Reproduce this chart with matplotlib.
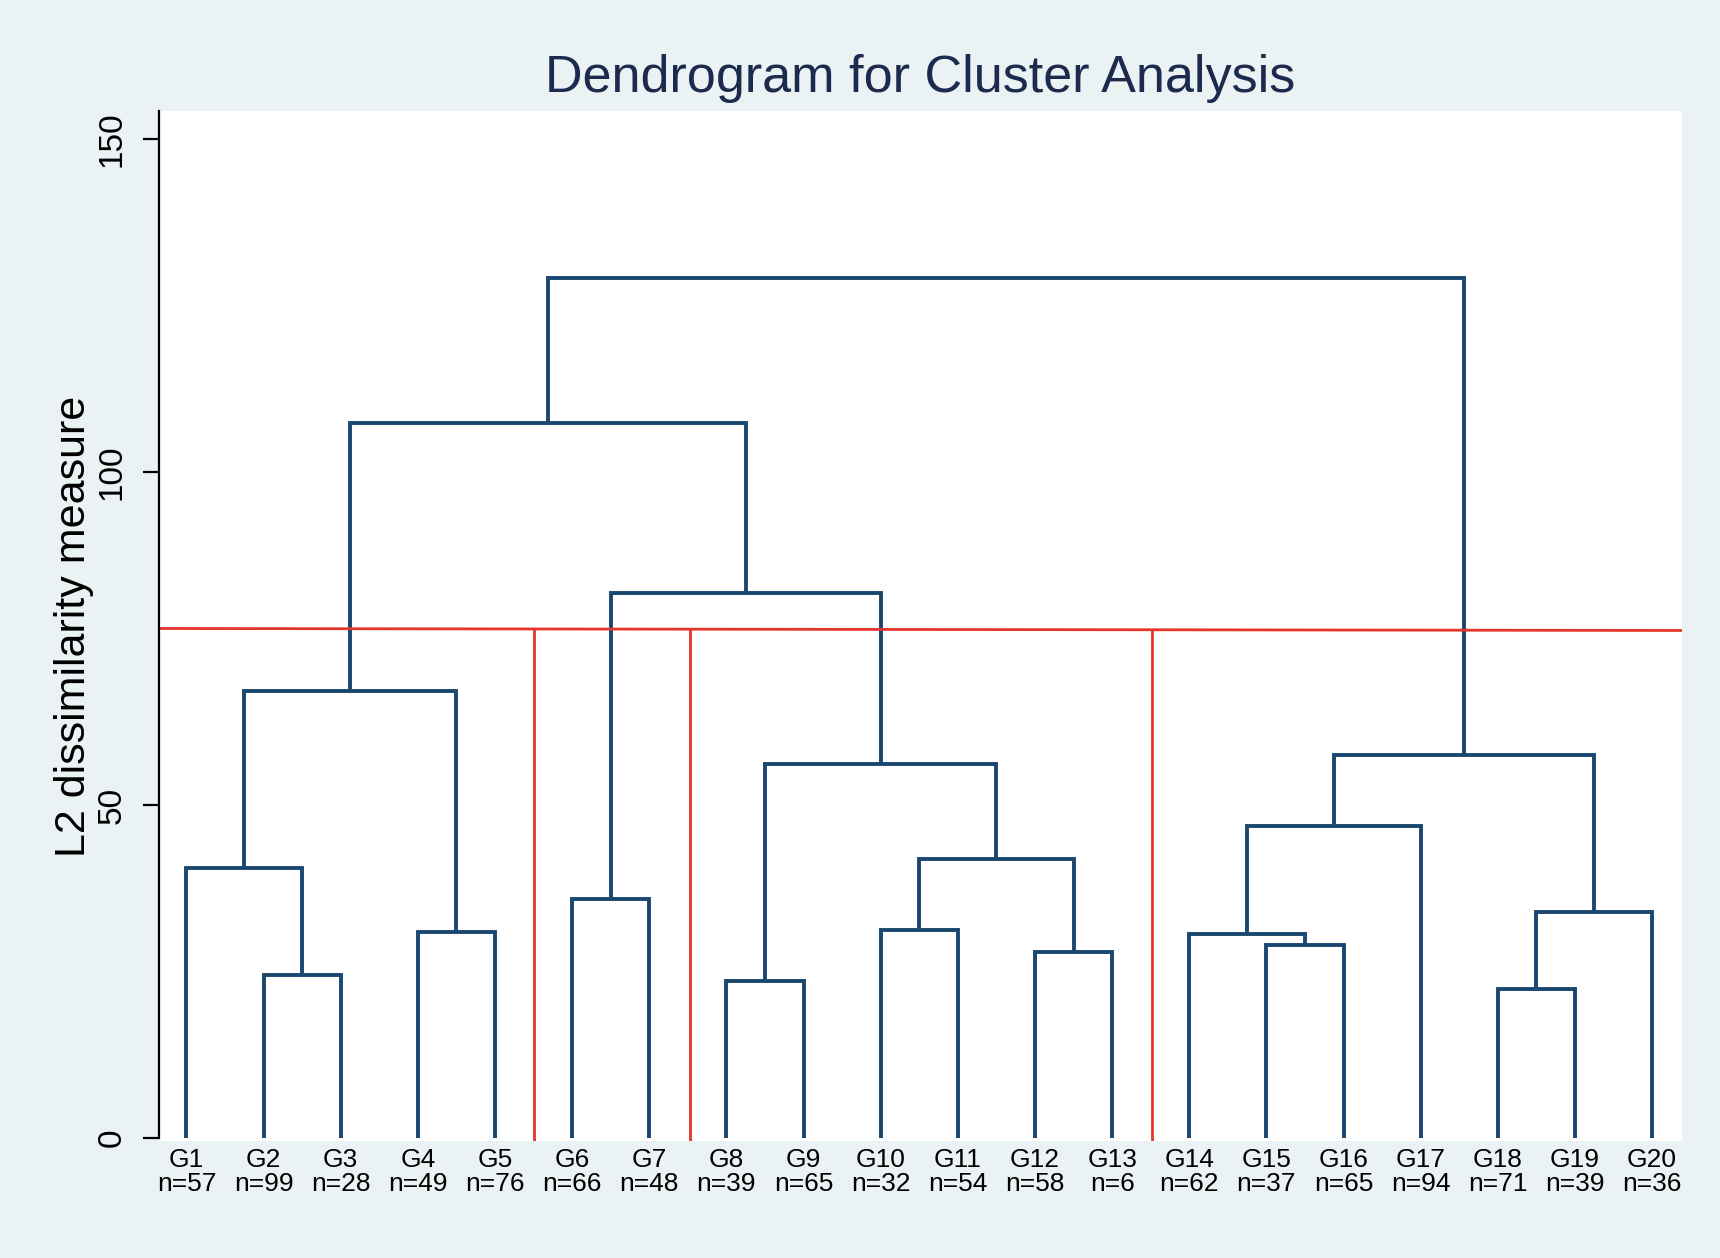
import matplotlib
matplotlib.use("Agg")
from matplotlib import pyplot as plt

# leaves in plotted order
groups = ["G1", "G2", "G3", "G4", "G5", "G6", "G7", "G8", "G9", "G10",
          "G11", "G12", "G13", "G14", "G15", "G16", "G17", "G18", "G19", "G20"]
counts = [57, 99, 28, 49, 76, 66, 48, 39, 65, 32,
          54, 58, 6, 62, 37, 65, 94, 71, 39, 36]

# linkage: leaves are 0..19, merge k makes node 20+k
merge_left = [17, 7, 1, 11, 14, 13, 3, 9, 20, 5, 0, 27, 25, 21, 32, 30, 29, 35, 37]
merge_right = [18, 8, 2, 12, 15, 24, 4, 10, 19, 6, 22, 23, 16, 31, 28, 26, 33, 36, 34]
merge_height = [22.4, 23.6, 24.4, 28.0, 29.0, 30.7, 31.0, 31.2, 34.0, 35.9,
                40.5, 41.9, 46.8, 56.2, 57.5, 67.1, 81.9, 107.3, 129.1]

# red cut line drawn on the chart
cut_height = [76.5, 76.2]
cut_positions = [5.5, 7.53, 13.52]

NAVY = "#1a476f"
RED = "#e2352b"
BG = "#eaf2f3"

plt.rcParams["font.family"] = ["Liberation Sans", "DejaVu Sans"]

fig = plt.figure(figsize=(17.2, 12.58), dpi=100, facecolor=BG)
ax = fig.add_axes([0.0924, 0.093, 0.8856, 0.8188])
ax.set_facecolor("white")

x_pos = {i: i + 1 for i in range(len(groups))}
y_pos = {i: 0.0 for i in range(len(groups))}
for k, (a, b, h) in enumerate(zip(merge_left, merge_right, merge_height)):
    xa, xb = x_pos[a], x_pos[b]
    ax.plot([xa, xa, xb, xb], [y_pos[a], h, h, y_pos[b]],
            color=NAVY, lw=2.8, solid_joinstyle="miter", solid_capstyle="butt")
    x_pos[20 + k] = (xa + xb) / 2
    y_pos[20 + k] = h

xmin, xmax = 0.643, 20.39
ymin, ymax = -0.45, 154.2

ax.plot([xmin, xmax], cut_height, color=RED, lw=2.0)
for cx in cut_positions:
    top = cut_height[0] + (cut_height[1] - cut_height[0]) * (cx - xmin) / (xmax - xmin)
    ax.plot([cx, cx], [ymin, top], color=RED, lw=2.0)

ax.set_xlim(xmin, xmax)
ax.set_ylim(ymin, ymax)

for s in ["top", "right", "bottom"]:
    ax.spines[s].set_visible(False)
ax.spines["left"].set_linewidth(1.6)
ax.spines["left"].set_bounds(0, ymax)

ax.set_yticks([0, 50, 100, 150])
ax.set_yticklabels(["0", "50", "100", "150"], rotation=90, va="center", fontsize=24)
ax.tick_params(axis="y", length=11.5, width=1.6, pad=11)

ax.set_xticks(range(1, len(groups) + 1))
ax.set_xticklabels([f"{g}\nn={n}" for g, n in zip(groups, counts)],
                   fontsize=19, linespacing=1.0)
ax.tick_params(axis="x", length=0, pad=5)

ax.set_ylabel("L2 dissimilarity measure", fontsize=31, labelpad=2)
ax.set_title("Dendrogram for Cluster Analysis", fontsize=37.5, color="#1c2a4e", pad=14)

fig.savefig("out.png", dpi=100, facecolor=BG)
